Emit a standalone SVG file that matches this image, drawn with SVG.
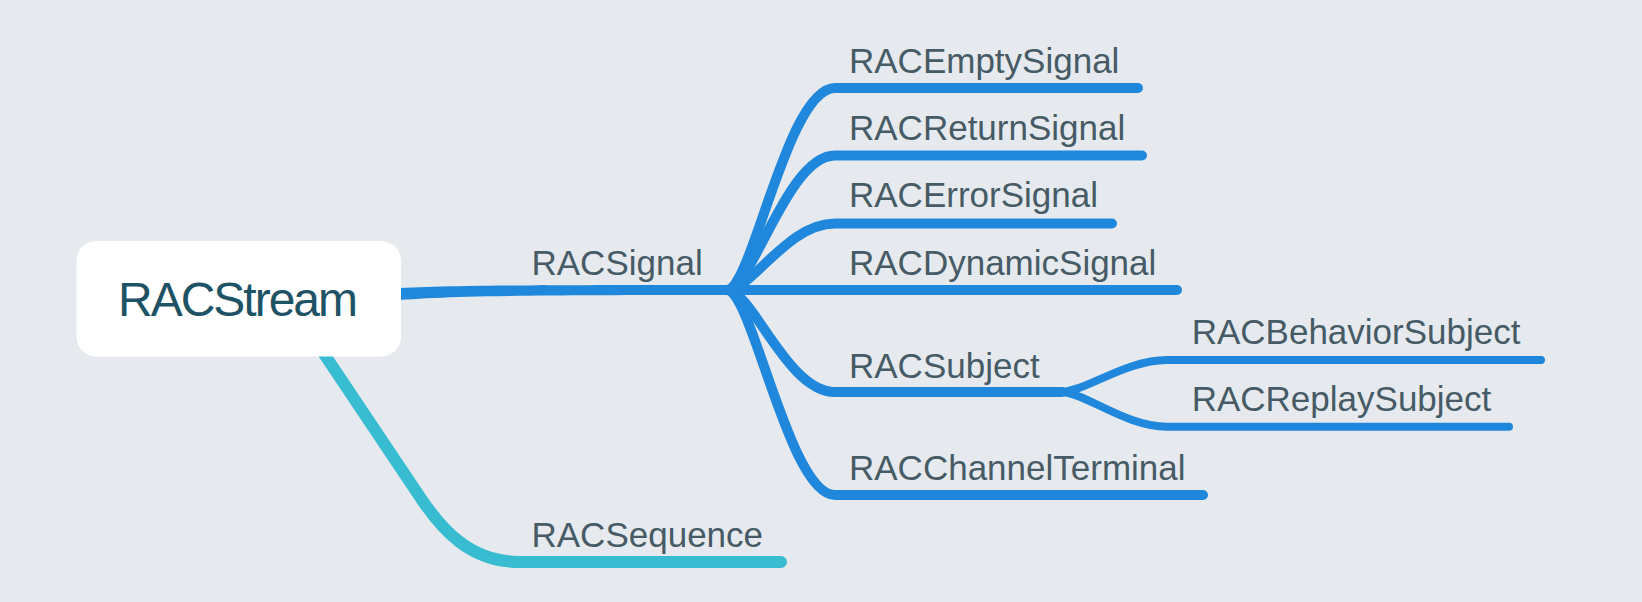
<svg xmlns="http://www.w3.org/2000/svg" width="1642" height="602" viewBox="0 0 1642 602">
  <style>
    .bg { fill: #e6eaee; }
    .blue { fill: none; stroke: #2088dc; stroke-linecap: round; stroke-linejoin: round; }
    .w10 { stroke-width: 10; }
    .w8 { stroke-width: 8; }
    .cyan { fill: none; stroke: #37bcd2; stroke-width: 12; stroke-linecap: round; stroke-linejoin: round; }
    .label { font-family: "Liberation Sans", Arial, sans-serif; font-size: 35px; fill: #465b66; }
    .rootText { font-family: "Liberation Sans", Arial, sans-serif; font-size: 48px; fill: #1e5265; }
    .rootBox { fill: #ffffff; }
  </style>
  <rect class="bg" x="0" y="0" width="1642" height="602"/>

  <g id="connectors">
    <!-- RACStream -> RACSequence -->
    <path class="cyan" d="M 300,318 L 420,497 C 442,530 470,562 520,562 L 781,562"/>
    <!-- RACStream -> RACSignal (tapered trunk) -->
    <path fill="#2088dc" d="M 380,289 C 440,285.5 500,285 730,285 L 730,295 C 500,295 440,296 380,301.5 Z"/>
    <!-- RACSignal -> children -->
    <path class="blue w10" d="M 727,290 C 752,290 787,88 835,88 L 1138,88"/>
    <path class="blue w10" d="M 727,290 C 752,290 787,155.5 835,155.5 L 1142,155.5"/>
    <path class="blue w10" d="M 727,290 C 752,290 787,223.5 835,223.5 L 1112,223.5"/>
    <path class="blue w10" d="M 727,290 L 1177,290"/>
    <path class="blue w10" d="M 727,290 C 752,290 787,392 835,392 L 1062,392"/>
    <path class="blue w10" d="M 727,290 C 752,290 789,495 835,495 L 1203,495"/>
    <!-- RACSubject -> children -->
    <path class="blue w8" d="M 1060,392 C 1085,392 1125,360 1167,360 L 1541,360"/>
    <path class="blue w8" d="M 1060,392 C 1085,392 1125,426.7 1167,426.7 L 1509,426.7"/>
  </g>

  <g id="RACStream">
    <rect class="rootBox" x="76.5" y="241" width="324.5" height="115.5" rx="20" ry="20"/>
    <text class="rootText" x="238" y="316" text-anchor="middle" textLength="240" lengthAdjust="spacing">RACStream</text>
  </g>
  <g id="RACSignal">
    <text class="label" x="531.5" y="275">RACSignal</text>
  </g>
  <g id="RACSequence">
    <text class="label" x="531.5" y="546.7">RACSequence</text>
  </g>
  <g id="RACEmptySignal">
    <text class="label" x="849" y="72.5">RACEmptySignal</text>
  </g>
  <g id="RACReturnSignal">
    <text class="label" x="849" y="139.5">RACReturnSignal</text>
  </g>
  <g id="RACErrorSignal">
    <text class="label" x="849" y="207">RACErrorSignal</text>
  </g>
  <g id="RACDynamicSignal">
    <text class="label" x="849" y="275">RACDynamicSignal</text>
  </g>
  <g id="RACSubject">
    <text class="label" x="849" y="377.7">RACSubject</text>
  </g>
  <g id="RACChannelTerminal">
    <text class="label" x="849" y="480">RACChannelTerminal</text>
  </g>
  <g id="RACBehaviorSubject">
    <text class="label" x="1191.7" y="343.5">RACBehaviorSubject</text>
  </g>
  <g id="RACReplaySubject">
    <text class="label" x="1191.7" y="410.5">RACReplaySubject</text>
  </g>
</svg>
